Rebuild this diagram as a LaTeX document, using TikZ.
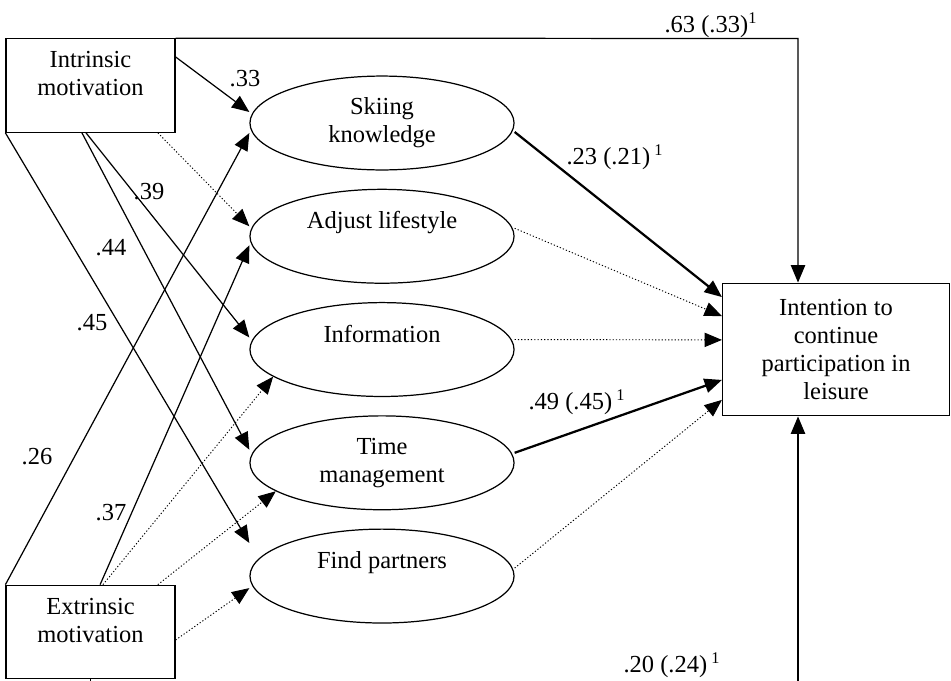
\documentclass[tikz,border=0pt]{standalone}
\usepackage{fontspec}
\setmainfont{Liberation Serif}
\usetikzlibrary{arrows.meta,shapes.geometric}

\tikzset{
  every node/.style={font=\fontsize{12}{13.8}\selectfont},
  boxnode/.style={draw, line width=0.6pt, align=center},
  motive/.style={boxnode, minimum width=82.8pt, minimum height=45.8pt, text depth=11.7pt},
  ell/.style={draw, ellipse, line width=0.6pt, minimum width=129.4pt, minimum height=46pt, inner sep=2pt, align=center},
  oneline/.style={text height=8.2pt, text depth=15.4pt},
  arr/.style={-{Triangle[length=8.5pt,width=7pt]}, line width=0.6pt},
  heavy/.style={arr, line width=1.1pt},
  dots/.style={arr, densely dotted, line width=0.45pt},
}

\begin{document}
\begin{tikzpicture}[x=0.49pt,y=-0.49pt,node distance=55.5pt]
\useasboundingbox (0,0) rectangle (951,680);
\clip (0,0) rectangle (951,680);
\node [motive] (intr) at (90.5,85.5) {Intrinsic\\motivation};
\node [motive] (extr) at (90.5,632) {Extrinsic\\motivation};
\node [ell] (ski) at (382,123) {Skiing\\knowledge};
\node [ell,oneline,below of=ski] (adj) {Adjust lifestyle};
\node [ell,oneline,below of=adj] (info) {Information};
\node [ell,below of=info] (time) {Time\\management};
\node [ell,oneline,below of=time] (find) {Find partners};
\node [boxnode,minimum width=111.2pt,minimum height=65pt] (goal) at (836,349.5) {Intention to\\continue\\participation in\\leisure};
\coordinate (tr) at (798,38.5);
\coordinate (br) at (798,684);
% direct paths
\draw [arr] (intr.north east) -- (tr) -- (tr |- goal.north);
\draw [arr] (extr.south) |- (br) -- (br |- goal.south);
% intrinsic
\draw [arr] ([yshift=14pt]intr.east) -- ([yshift=5.4pt]ski.west);
\draw [dots] ([xshift=33pt]intr.south) -- ([yshift=4.9pt]adj.west);
\draw [arr] ([xshift=-2.2pt]intr.south) -- ([yshift=5.9pt]info.west);
\draw [arr] ([xshift=-4.2pt]intr.south) -- ([yshift=6.4pt]time.west);
\draw [arr] (intr.south west) -- ([yshift=16.2pt]find.west);
% extrinsic
\draw [arr] (extr.north west) -- ([yshift=-4.9pt]ski.west);
\draw [arr] ([xshift=4.7pt]extr.north) -- ([yshift=-4.4pt]adj.west);
\draw [dots] ([xshift=6.1pt]extr.north) -- (info.194);
\draw [dots] ([xshift=33pt]extr.north) -- (time.195);
\draw [dots] ([yshift=-3.9pt]extr.east) -- ([yshift=-5.9pt]find.west);
% to intention
\draw [heavy] ([yshift=-4.4pt]ski.east) -- ([yshift=25.7pt]goal.west);
\draw [dots] ([yshift=3.9pt]adj.east) -- ([yshift=16.4pt]goal.west);
\draw [dots] ([yshift=4.9pt]info.east) -- ([yshift=4.7pt]goal.west);
\draw [heavy] ([yshift=4.9pt]time.east) -- ([yshift=-14.9pt]goal.west);
\draw [dots] ([yshift=3.9pt]find.east) -- ([yshift=-24.7pt]goal.west);
% coefficients
\node (l33) at (245,79) {.33};
\node (l39) at (149,192) {.39};
\node (l44) at (111,248) {.44};
\node (l45) at (92,323) {.45};
\node (l26) at (37,457) {.26};
\node (l37) at (111,513) {.37};
\node (l63) at (711,25) {.63 (.33)\textsuperscript{1}};
\node (l23) at (615,157) {.23 (.21)\,\textsuperscript{1}};
\node (l49) at (577,402) {.49 (.45)\,\textsuperscript{1}};
\node (l20) at (672,665) {.20 (.24)\,\textsuperscript{1}};
\end{tikzpicture}
\end{document}
